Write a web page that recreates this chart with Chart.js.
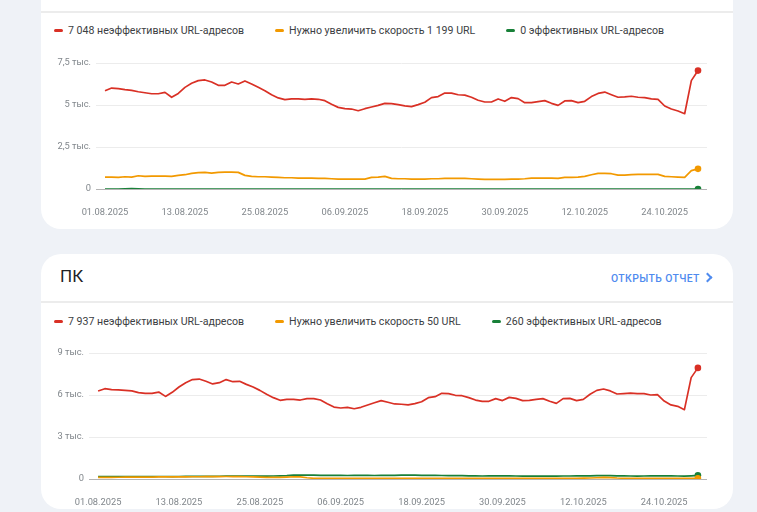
<!DOCTYPE html>
<html lang="ru">
<head>
<meta charset="utf-8">
<title>Core Web Vitals</title>
<script src="https://cdn.jsdelivr.net/npm/chart.js@4.4.1/dist/chart.umd.min.js"></script>
<style>
  body { margin: 0; width: 757px; height: 512px; overflow: hidden; background: #eff2f7; font-family: Roboto, "Noto Sans", sans-serif; position: relative; }
  .card { position: absolute; left: 41px; width: 692px; background: #fff; border-radius: 20px; }
  .divider { position: absolute; left: 41px; width: 692px; height: 2px; background: #ececec; }
  .legend { position: absolute; left: 54px; display: flex; font-size: 10.6px; color: #3c4043; white-space: nowrap; }
  .legend .item { display: flex; align-items: center; margin-right: 31px; }
  .legend .dash { width: 9px; height: 3px; border-radius: 2px; margin-right: 5px; }
  .title { position: absolute; left: 60px; top: 266px; font-size: 17px; color: #202124; }
  .link { position: absolute; left: 611px; top: 272px; font-size: 10.4px; font-weight: 500; letter-spacing: 0.4px; color: #4f8bef; }
  .chev { position: absolute; left: 704px; top: 271px; width: 5px; height: 5px; border-right: 2px solid #4f8bef; border-top: 2px solid #4f8bef; transform: rotate(45deg); transform-origin: center; margin-top: 3px; }
  .wrap { position: absolute; left: 41px; width: 692px; height: 170px; }
</style>
</head>
<body>
<div class="card" style="top:-30px;height:259px"></div>
<div class="divider" style="top:11px"></div>
<div class="legend" id="legendTop" style="top:24px"></div>
<div class="wrap" style="top:50px"><canvas id="chartTop"></canvas></div>

<div class="card" style="top:254px;height:255px"></div>
<div class="title">ПК</div>
<div class="link">ОТКРЫТЬ ОТЧЕТ</div>
<div class="chev"></div>
<div class="divider" style="top:301px"></div>
<div class="legend" id="legendBottom" style="top:315px"></div>
<div class="wrap" style="top:340px"><canvas id="chartBottom"></canvas></div>

<script>
// x axis labels every 12 days, data is daily 01.08.2025 .. 29.10.2025
const xTickLabels = ['01.08.2025', '13.08.2025', '25.08.2025', '06.09.2025', '18.09.2025', '30.09.2025', '12.10.2025', '24.10.2025'];
const seriesColors = ['#d93025', '#f29900', '#188038'];

// top card (mobile)
const topLegend = ['7 048 неэффективных URL-адресов', 'Нужно увеличить скорость 1 199 URL', '0 эффективных URL-адресов'];
const topYTicks = ['0', '2,5 тыс.', '5 тыс.', '7,5 тыс.'];
const topPoor = [
  5850, 6010, 5970, 5910, 5870, 5790, 5730, 5670, 5670, 5750,
  5460, 5690, 6050, 6290, 6450, 6490, 6370, 6170, 6170, 6370,
  6250, 6430, 6250, 6050, 5850, 5610, 5420, 5320, 5360, 5360,
  5340, 5360, 5340, 5260, 5040, 4860, 4780, 4760, 4660, 4780,
  4880, 4980, 5100, 5080, 5020, 4950, 4900, 5020, 5160, 5440,
  5500, 5710, 5710, 5610, 5590, 5460, 5280, 5180, 5180, 5360,
  5220, 5440, 5380, 5140, 5140, 5200, 5260, 5100, 4980, 5240,
  5260, 5140, 5220, 5500, 5690, 5770, 5610, 5460, 5480, 5520,
  5460, 5440, 5360, 5340, 4940, 4760, 4640, 4480, 6450, 7048
];
const topNeedsWork = [
  710, 710, 690, 730, 710, 790, 750, 770, 770, 770,
  750, 810, 850, 930, 970, 990, 950, 990, 1010, 1010,
  990, 810, 750, 730, 730, 710, 690, 670, 670, 650,
  650, 650, 630, 630, 610, 590, 590, 590, 590, 590,
  690, 710, 750, 630, 610, 610, 590, 590, 590, 610,
  610, 630, 630, 630, 630, 610, 590, 570, 570, 570,
  570, 590, 590, 610, 650, 650, 650, 650, 630, 690,
  690, 710, 750, 850, 930, 930, 910, 830, 830, 850,
  870, 870, 870, 870, 750, 730, 710, 690, 1090, 1199
];
const topGood = [
  0, 0, 0, 10, 25, 10, 0, 0, 0, 0,
  0, 0, 0, 0, 0, 0, 0, 0, 0, 0,
  0, 0, 0, 0, 0, 0, 0, 0, 0, 0,
  0, 0, 0, 0, 0, 0, 0, 0, 0, 0,
  0, 0, 0, 0, 0, 0, 0, 0, 0, 0,
  0, 0, 0, 0, 0, 0, 0, 0, 0, 0,
  0, 0, 0, 0, 0, 0, 0, 0, 0, 0,
  0, 0, 0, 0, 0, 0, 0, 0, 0, 0,
  0, 0, 0, 0, 0, 0, 0, 0, 0, 0
];

// bottom card (ПК)
const bottomLegend = ['7 937 неэффективных URL-адресов', 'Нужно увеличить скорость 50 URL', '260 эффективных URL-адресов'];
const bottomYTicks = ['0', '3 тыс.', '6 тыс.', '9 тыс.'];
const pcPoor = [
  6290, 6450, 6380, 6360, 6330, 6290, 6170, 6120, 6120, 6210,
  5900, 6190, 6570, 6880, 7100, 7140, 6980, 6790, 6880, 7100,
  6950, 6980, 6760, 6570, 6330, 6050, 5810, 5620, 5690, 5690,
  5640, 5740, 5740, 5640, 5380, 5140, 5070, 5120, 5020, 5120,
  5290, 5450, 5600, 5480, 5360, 5340, 5290, 5380, 5520, 5810,
  5880, 6120, 6100, 5980, 5950, 5810, 5640, 5550, 5550, 5740,
  5600, 5830, 5760, 5600, 5620, 5690, 5740, 5550, 5400, 5740,
  5760, 5600, 5690, 6050, 6330, 6430, 6290, 6070, 6100, 6140,
  6100, 6100, 6000, 6020, 5570, 5290, 5190, 4950, 7240, 7937
];
const pcNeedsWork = [
  110, 115, 120, 125, 130, 130, 135, 140, 140, 145,
  145, 150, 150, 155, 160, 160, 165, 170, 175, 180,
  175, 170, 160, 150, 130, 120, 115, 115, 140, 160,
  150, 90, 50, 40, 40, 45, 45, 50, 55, 50,
  45, 40, 40, 45, 50, 45, 40, 40, 45, 50,
  50, 50, 45, 45, 45, 50, 50, 55, 55, 50,
  45, 45, 50, 50, 55, 55, 50, 50, 45, 45,
  50, 55, 60, 70, 90, 110, 100, 70, 55, 50,
  50, 50, 45, 45, 45, 40, 40, 40, 40, 50
];
const pcGood = [
  170, 175, 175, 180, 175, 170, 170, 175, 175, 180,
  180, 175, 180, 185, 190, 190, 185, 190, 195, 200,
  200, 205, 210, 205, 200, 210, 215, 225, 240, 270,
  280, 275, 270, 265, 260, 265, 255, 250, 260, 265,
  260, 250, 255, 260, 265, 270, 275, 270, 265, 260,
  255, 250, 245, 240, 235, 225, 220, 215, 220, 225,
  230, 220, 215, 210, 205, 200, 200, 205, 210, 215,
  215, 220, 225, 230, 240, 245, 235, 225, 220, 215,
  210, 215, 220, 225, 230, 225, 215, 210, 230, 260
];

function fillLegend(id, labels) {
  const box = document.getElementById(id);
  labels.forEach((txt, i) => {
    const item = document.createElement('div');
    item.className = 'item';
    item.innerHTML = '<span class="dash" style="background:' + seriesColors[i] + '"></span><span>' + txt + '</span>';
    box.appendChild(item);
  });
}

function makeChart(canvasId, seriesList, labels, yMax, yStep, yTicks, yWidth) {
  const datasets = seriesList.map((vals, i) => ({
    label: labels[i],
    data: vals.map((v, k) => ({ x: k, y: v })),
    borderColor: seriesColors[i],
    backgroundColor: seriesColors[i],
    borderWidth: 1.7,
    tension: 0,
    borderJoinStyle: 'round',
    pointRadius: (c) => c.dataIndex === vals.length - 1 ? 3.3 : 0,
    pointHoverRadius: 0,
    pointBorderWidth: 0
  }));
  const last = seriesList[0].length - 1;
  return new Chart(document.getElementById(canvasId), {
    type: 'line',
    data: { datasets: datasets },
    options: {
      responsive: true,
      maintainAspectRatio: false,
      animation: false,
      layout: { padding: { top: 13, right: 26, left: 0, bottom: 0 } },
      plugins: { legend: { display: false }, tooltip: { enabled: false } },
      scales: {
        x: {
          type: 'linear',
          min: -1.35,
          max: last + 1.35,
          grid: { display: false },
          border: { display: false },
          afterBuildTicks: (scale) => {
            scale.ticks = xTickLabels.map((_, k) => ({ value: k * 12 }));
          },
          afterFit: (scale) => { scale.height = 31; },
          ticks: {
            autoSkip: false,
            maxRotation: 0,
            padding: 10,
            color: '#80868b',
            font: { family: 'Roboto', size: 9.3 },
            callback: (v, idx) => xTickLabels[idx]
          }
        },
        y: {
          min: 0,
          max: yMax,
          border: { display: false },
          grid: {
            drawTicks: false,
            lineWidth: 1,
            color: (c) => c.tick && c.tick.value === 0 ? '#b4b4b4' : '#ececec'
          },
          afterFit: (scale) => { scale.width = yWidth; },
          ticks: {
            stepSize: yStep,
            padding: 5,
            color: '#80868b',
            font: { family: 'Roboto', size: 9.3 },
            callback: (v, idx) => yTicks[idx]
          }
        }
      }
    }
  });
}

fillLegend('legendTop', topLegend);
fillLegend('legendBottom', bottomLegend);
makeChart('chartTop', [topPoor, topNeedsWork, topGood], topLegend, 7500, 2500, topYTicks, 55);
makeChart('chartBottom', [pcPoor, pcNeedsWork, pcGood], bottomLegend, 9000, 3000, bottomYTicks, 48);
</script>
</body>
</html>
